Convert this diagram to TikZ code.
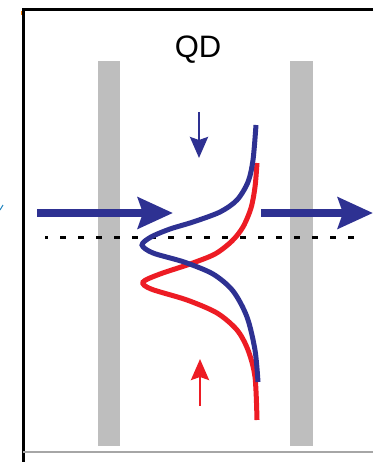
\documentclass[tikz,border=0pt]{standalone}
\usepackage{fontspec}
\setmainfont{Liberation Sans}
\usetikzlibrary{arrows.meta}
\definecolor{qdblue}{HTML}{2E3192}
\definecolor{qdred}{HTML}{ED1C24}
\definecolor{mirror}{HTML}{BEBEBE}
\begin{document}
\begin{tikzpicture}[x=1pt, y=-1pt,
  beam/.style={qdblue, line width=8pt, -{Stealth[length=35pt, width=31pt, inset=5pt]}},
  sweep/.style={line width=2.8pt, -{Stealth[length=21pt, width=18pt, inset=3pt]}},
  curve/.style={line width=5pt}]
\useasboundingbox (0,0) rectangle (373,462);
\fill[mirror] (98,61) rectangle (120,446);
\fill[mirror] (290,61) rectangle (313,446);
\draw[line width=3pt] (373,10) -- (23,10) -- (23,462);
\draw[gray!70, line width=1.5pt] (23,452) -- (373,452);
\draw[qdblue!60!cyan, line width=1pt] (0,210) -- (3,205);
\draw[orange, line width=1pt] (21,11) -- (21,15);
\node[anchor=base, inner sep=0pt] (qd) at (198,58) {\fontsize{31}{36}\selectfont QD};
\coordinate (inL) at (37,213);
\coordinate (inR) at (173,213);
\coordinate (outL) at (261,213);
\coordinate (outR) at (373,213);
\coordinate (downA) at (199,112);
\coordinate (downB) at (199,158);
\coordinate (upA) at (200,406);
\coordinate (upB) at (200,359);
\coordinate (axisL) at (45,237);
\coordinate (axisR) at (355,237);
\draw[line width=3pt, dash pattern=on 6pt off 12pt, dash phase=3pt] (axisL) -- (axisR);
\draw[beam] (inL) -- (inR);
\draw[beam] (outL) -- (outR);
\draw[sweep, qdblue] (downA) -- (downB);
\draw[sweep, qdred] (upA) -- (upB);
\draw[curve, qdred] plot[smooth] coordinates {(257,163) (255,187) (251,208) (243,227) (232,241) (215,254) (190,264) (160,274) (143,282) (151,289) (187,300) (217,313) (237,330) (248,350) (255,377) (257,420)};
\draw[curve, qdblue] plot[smooth] coordinates {(256,125) (253,160) (248,182) (237,200) (220,212) (193,222) (170,229) (151,237) (142,245) (153,253) (184,262) (213,274) (233,291) (247,317) (255,350) (258,382)};
\end{tikzpicture}
\end{document}
